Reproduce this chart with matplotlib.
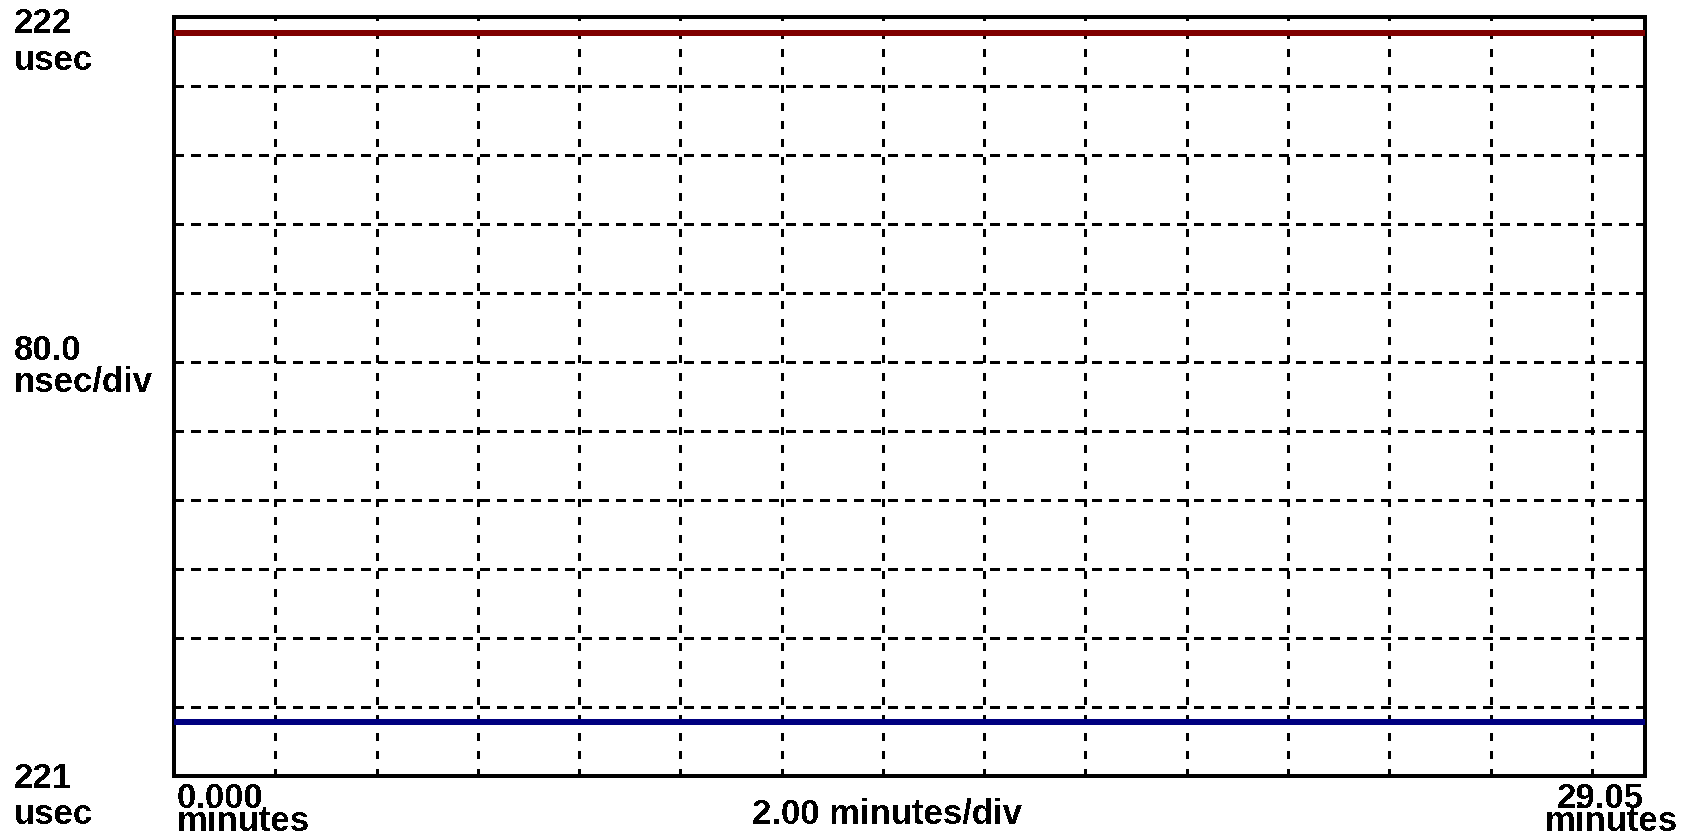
import matplotlib
matplotlib.use("Agg")
import matplotlib.pyplot as plt
import numpy as np

# time axis (minutes) and the two delay traces (usec)
time_min = [0.0, 29.05]
delay_a = [221.922, 221.922]
delay_b = [221.122, 221.122]

y_lo, y_hi = 221.06, 221.94
y_div = 0.08
x_div = 2.0

y_top_label = ["222", "usec"]
y_mid_label = ["80.0", "nsec/div"]
y_bot_label = ["221", "usec"]
x_mid_label = "2.00 minutes/div"
x_unit = "minutes"

W, H = 1687, 838
DPI = 100

plt.rcParams.update({
	"font.family": ["Liberation Sans", "DejaVu Sans"],
	"font.weight": "bold",
	"lines.scale_dashes": False,
	"text.antialiased": False,
})

fig = plt.figure(figsize=(W / DPI, H / DPI), dpi=DPI)
ax = fig.add_axes([174 / W, 1 - 775.5 / H, (1645 - 174) / W, (775.5 - 17.5) / H])

px = 72.0 / DPI  # points per pixel

ax.plot(time_min, delay_a, color="#800000", lw=6 * px, solid_capstyle="butt", antialiased=False, zorder=3)
ax.plot(time_min, delay_b, color="#000080", lw=6 * px, solid_capstyle="butt", antialiased=False, zorder=3)

ax.set_xlim(time_min[0], time_min[-1])
ax.set_ylim(y_lo, y_hi)
ax.set_xticks(np.arange(x_div, time_min[-1], x_div))
ax.set_yticks(y_lo + y_div * np.arange(1, 11))
ax.tick_params(length=0, labelbottom=False, labelleft=False)
ax.set_axisbelow(True)

ax.grid(axis="x", color="black", lw=3 * px, linestyle=(0, (7 * px, 10.5 * px)))
ax.grid(axis="y", color="black", lw=3 * px, linestyle=(0, (10 * px, 7.5 * px)))
for gl in ax.get_xgridlines() + ax.get_ygridlines():
	gl.set_antialiased(False)

for sp in ax.spines.values():
	sp.set_linewidth(3.5 * px)
	sp.set_antialiased(False)

fs = 25

def put(x, y, s, ha="left"):
	fig.text(x / W, 1 - y / H, s, ha=ha, va="baseline", fontsize=fs, fontweight="bold")

put(14, 33, y_top_label[0])
put(14, 70, y_top_label[1])
put(14, 360, y_mid_label[0])
put(14, 392, y_mid_label[1])
put(14, 788, y_bot_label[0])
put(14, 824, y_bot_label[1])

put(177, 808, "{:.3f}".format(time_min[0]))
put(177, 831, x_unit)
put(1644, 808, "{:.2f}".format(time_min[-1]), ha="right")
put(1678, 831, x_unit, ha="right")
put(752, 823, x_mid_label)

fig.savefig("out.png", dpi=DPI)
plt.close(fig)
